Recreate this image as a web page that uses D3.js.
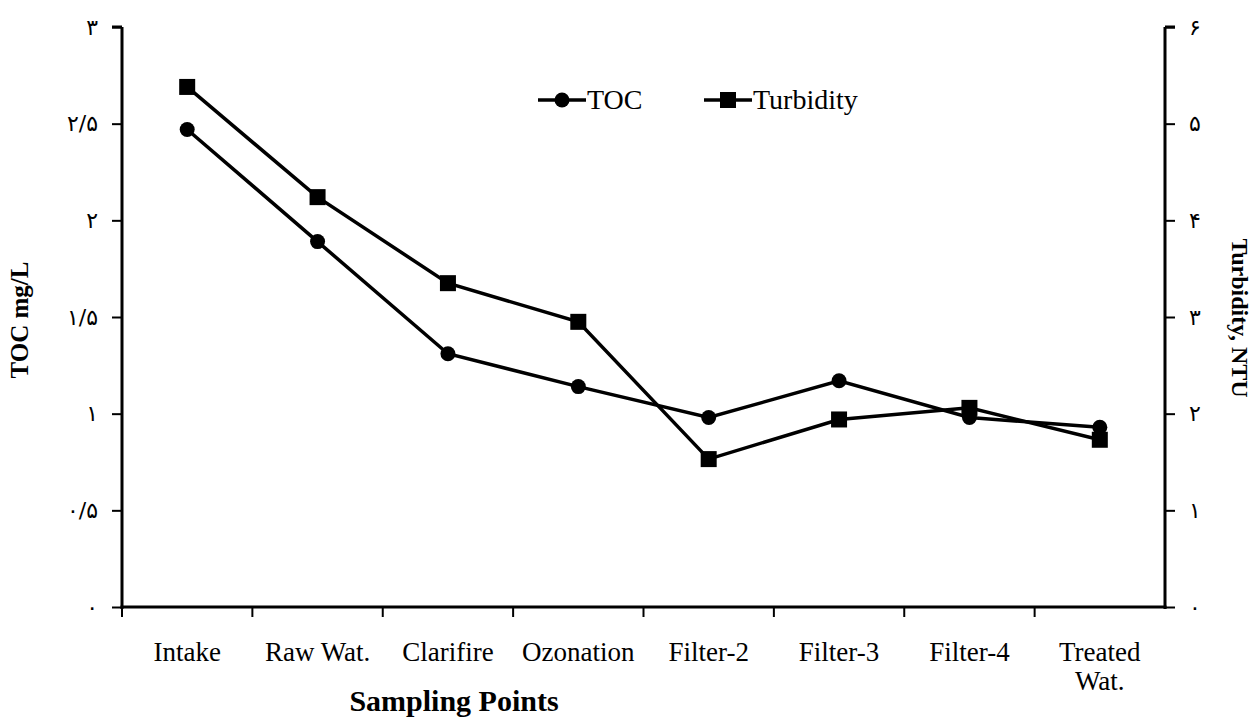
<!DOCTYPE html>
<html>
<head>
<meta charset="utf-8">
<script src="https://cdn.jsdelivr.net/npm/d3@7"></script>
<style>
  html, body { margin: 0; padding: 0; background: #fff; }
  svg { display: block; }
  text { font-family: "Liberation Serif", "Times New Roman", serif; fill: #000; }
</style>
</head>
<body>
<svg id="chart" width="1258" height="718"></svg>
<script>
const categories = ["Intake", "Raw Wat.", "Clarifire", "Ozonation", "Filter-2", "Filter-3", "Filter-4", "Treated Wat."];
const tocValues = [2.47, 1.89, 1.31, 1.14, 0.98, 1.17, 0.98, 0.93];
const turbidityValues = [5.38, 4.24, 3.35, 2.95, 1.53, 1.94, 2.06, 1.73];
const leftTicks = [0, 0.5, 1, 1.5, 2, 2.5, 3];
const leftTickLabels = ["۰", "۰/۵", "۱", "۱/۵", "۲", "۲/۵", "۳"];
const rightTicks = [0, 1, 2, 3, 4, 5, 6];
const rightTickLabels = ["۰", "۱", "۲", "۳", "۴", "۵", "۶"];

const svg = d3.select("#chart");
const L = 122, R = 1165, T = 27, B = 607;

const x = d3.scaleBand().domain(categories).range([L, R]);
const yL = d3.scaleLinear().domain([0, 3]).range([B, T]);
const yR = d3.scaleLinear().domain([0, 6]).range([B, T]);

// Left axis
const gL = svg.append("g").attr("transform", `translate(${L},0)`)
  .call(d3.axisLeft(yL).tickValues(leftTicks).tickSize(10).tickPadding(14)
    .tickFormat((d, i) => leftTickLabels[i]));
// Right axis
const gR = svg.append("g").attr("transform", `translate(${R},0)`)
  .call(d3.axisRight(yR).tickValues(rightTicks).tickSize(10).tickPadding(14)
    .tickFormat((d, i) => rightTickLabels[i]));
// Bottom axis with ticks at band boundaries
const gB = svg.append("g").attr("transform", `translate(0,${B})`)
  .call(d3.axisBottom(x).tickSize(0).tickFormat(""));

[gL, gR, gB].forEach(g => {
  g.select(".domain").attr("stroke", "#000").attr("stroke-width", 3);
  g.selectAll(".tick line").attr("stroke", "#000").attr("stroke-width", 2);
  g.selectAll(".tick text").style("font-family", "'DejaVu Sans', sans-serif").style("font-size", "22px").attr("fill", "#000");
});
gL.select(".domain").attr("d", `M0,${T}H-10M0,${T}V${B + 2}`);
gR.select(".domain").attr("d", `M0,${T}H10M0,${T}V${B + 2}`);
gB.select(".domain").attr("d", `M${L - 1.5},0H${R + 1.5}`);

const boundaries = categories.map(c => x(c));
gB.selectAll(".bt").data(boundaries).enter().append("line")
  .attr("x1", d => d).attr("x2", d => d).attr("y1", 0).attr("y2", 10)
  .attr("stroke", "#000").attr("stroke-width", 2);

// Category labels
const cx = c => x(c) + x.bandwidth() / 2;
svg.append("g").selectAll("text").data(categories).enter().append("text")
  .attr("x", d => cx(d)).attr("y", 661)
  .attr("text-anchor", "middle").style("font-size", "27px")
  .each(function(d) {
    const parts = d === "Treated Wat." ? ["Treated", "Wat."] : [d];
    d3.select(this).selectAll("tspan").data(parts).enter().append("tspan")
      .attr("x", cx(d)).attr("dy", (p, i) => i === 0 ? 0 : 29).text(p => p);
  });

// Axis titles
svg.append("text").attr("x", 454).attr("y", 711).attr("text-anchor", "middle")
  .style("font-size", "30px").style("font-weight", "bold").text("Sampling Points");
svg.append("text").attr("transform", "translate(28,320) rotate(-90)").attr("text-anchor", "middle")
  .style("font-size", "25px").style("font-weight", "bold").text("TOC mg/L");
svg.append("text").attr("transform", "translate(1232,318) rotate(90)").attr("text-anchor", "middle")
  .style("font-size", "24px").style("font-weight", "bold").text("Turbidity, NTU");

// Lines
const lineL = d3.line().x((d, i) => cx(categories[i])).y(d => yL(d));
const lineR = d3.line().x((d, i) => cx(categories[i])).y(d => yR(d));
svg.append("path").attr("d", lineL(tocValues)).attr("fill", "none").attr("stroke", "#000").attr("stroke-width", 3.5);
svg.append("path").attr("d", lineR(turbidityValues)).attr("fill", "none").attr("stroke", "#000").attr("stroke-width", 3.5);

svg.append("g").selectAll("circle").data(tocValues).enter().append("circle")
  .attr("cx", (d, i) => cx(categories[i])).attr("cy", d => yL(d)).attr("r", 7.5).attr("fill", "#000");
const S = 16;
svg.append("g").selectAll("rect").data(turbidityValues).enter().append("rect")
  .attr("x", (d, i) => cx(categories[i]) - S / 2).attr("y", d => yR(d) - S / 2)
  .attr("width", S).attr("height", S).attr("fill", "#000");

// Legend
const leg = svg.append("g");
const LY = 100;
leg.append("line").attr("x1", 538).attr("x2", 586).attr("y1", LY).attr("y2", LY).attr("stroke", "#000").attr("stroke-width", 3.5);
leg.append("circle").attr("cx", 562).attr("cy", LY).attr("r", 7.5).attr("fill", "#000");
leg.append("text").attr("x", 587).attr("y", LY + 9).style("font-size", "28px").text("TOC");
leg.append("line").attr("x1", 704).attr("x2", 752).attr("y1", LY).attr("y2", LY).attr("stroke", "#000").attr("stroke-width", 3.5);
leg.append("rect").attr("x", 720).attr("y", LY - 8).attr("width", S).attr("height", S).attr("fill", "#000");
leg.append("text").attr("x", 753).attr("y", LY + 9).style("font-size", "28px").text("Turbidity");
</script>
</body>
</html>
